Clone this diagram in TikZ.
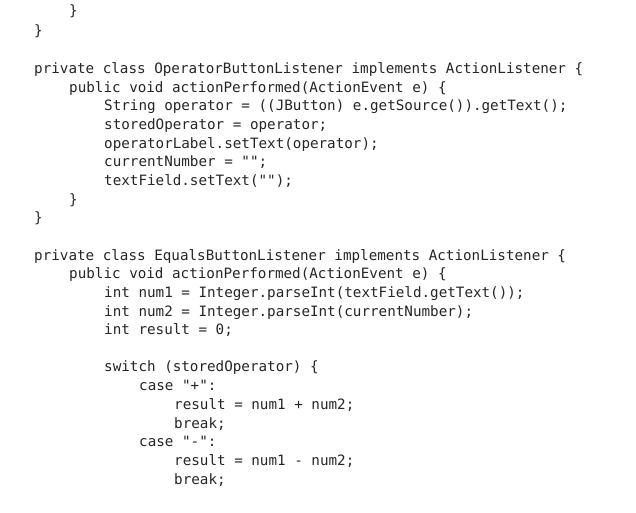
\documentclass[tikz,border=0pt]{standalone}
\usepackage{fontspec}
\newfontfamily\codefont{DejaVu Sans Mono}
\tikzset{
    code/.style={anchor=base west, inner sep=0pt, font=\codefont\fontsize{14.25}{16}\selectfont, text=black!85},
}
\begin{document}
\begin{tikzpicture}[x=1pt, y=-1pt]
    \newcommand\indA{34}
    \newcommand\indB{69}
    \newcommand\indC{104}
    \newcommand\indD{139}
    \newcommand\indE{174}
    \useasboundingbox[fill=white] (0,0) rectangle (636,512);

    \node[code] (l1) at (\indB, 15){\}};
    \node[code] (l2) at (\indA, 35){\}};

    \node[code] (l3) at (\indA, 73){private class OperatorButtonListener implements ActionListener \{};
    \node[code] (l4) at (\indB, 92){public void actionPerformed(ActionEvent e) \{};
    \node[code] (l5) at (\indC, 110){String operator = ((JButton) e.getSource()).getText();};
    \node[code] (l6) at (\indC, 129){storedOperator = operator;};
    \node[code] (l7) at (\indC, 148){operatorLabel.setText(operator);};
    \node[code] (l8) at (\indC, 166){currentNumber = "";};
    \node[code] (l9) at (\indC, 185){textField.setText("");};
    \node[code] (l10) at (\indB, 204){\}};
    \node[code] (l11) at (\indA, 222){\}};

    \node[code] (l12) at (\indA, 260){private class EqualsButtonListener implements ActionListener \{};
    \node[code] (l13) at (\indB, 278){public void actionPerformed(ActionEvent e) \{};
    \node[code] (l14) at (\indC, 297){int num1 = Integer.parseInt(textField.getText());};
    \node[code] (l15) at (\indC, 316){int num2 = Integer.parseInt(currentNumber);};
    \node[code] (l16) at (\indC, 334){int result = 0;};

    \node[code] (l17) at (\indC, 371){switch (storedOperator) \{};
    \node[code] (l18) at (\indD, 390){case "+":};
    \node[code] (l19) at (\indE, 409){result = num1 + num2;};
    \node[code] (l20) at (\indE, 428){break;};
    \node[code] (l21) at (\indD, 446){case "-":};
    \node[code] (l22) at (\indE, 465){result = num1 - num2;};
    \node[code] (l23) at (\indE, 484){break;};
\end{tikzpicture}
\end{document}
